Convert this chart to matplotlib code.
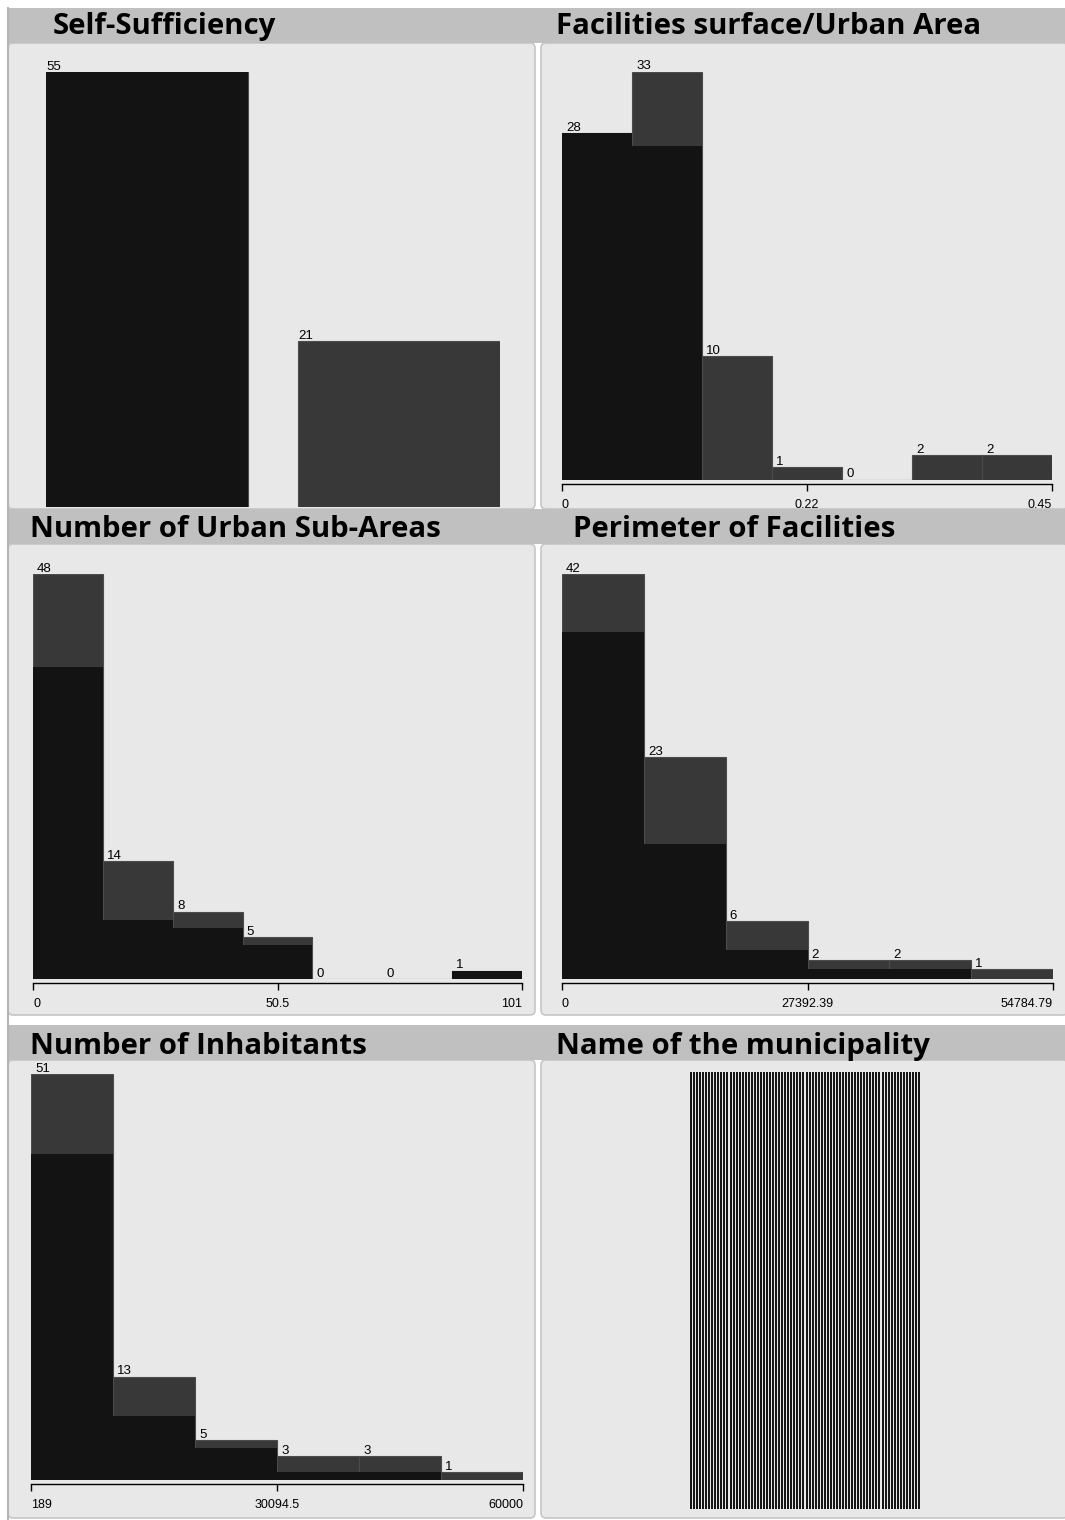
import numpy as np
import matplotlib.pyplot as plt
from matplotlib.patches import FancyBboxPatch, Rectangle
from matplotlib.transforms import IdentityTransform

W, H = 1065, 1520

# bin counts for all municipalities and for the selected group
self_suff_total = [55, 21]
self_suff_sel = [55, 0]

facil_range = (0.0, 0.45)
facil_total = [28, 33, 10, 1, 0, 2, 2]
facil_sel = [28, 27, 0, 0, 0, 0, 0]
facil_ticks = ['0', '0.22', '0.45']

sub_range = (0, 101)
sub_total = [48, 14, 8, 5, 0, 0, 1]
sub_sel = [37, 7, 6, 4, 0, 0, 1]
sub_ticks = ['0', '50.5', '101']

perim_range = (0.0, 54784.79)
perim_total = [42, 23, 6, 2, 2, 1]
perim_sel = [36, 14, 3, 1, 1, 0]
perim_ticks = ['0', '27392.39', '54784.79']

inhab_range = (189, 60000)
inhab_total = [51, 13, 5, 3, 3, 1]
inhab_sel = [41, 8, 4, 1, 1, 0]
inhab_ticks = ['189', '30094.5', '60000']

n_municipalities = 76
muni_counts = [1] * n_municipalities

BG = '#e8e8e8'
HEADER = '#c0c0c0'
BORDER = '#c6c6c6'
C_ALL = '#383838'
C_SEL = '#131313'
SMALL = 'Liberation Sans'
TITLE = 'Open Sans'

fig = plt.figure(figsize=(W / 100, H / 100), dpi=100, facecolor='white')


def frac(x0, y0, x1, y1):
    # pixel box (top-left origin) -> figure fraction rect
    return [x0 / W, 1 - y1 / H, (x1 - x0) / W, (y1 - y0) / H]


def panel(x0, y0, x1, y1):
    p = FancyBboxPatch((x0, H - y1), x1 - x0, y1 - y0,
                       boxstyle='round,pad=0,rounding_size=5',
                       transform=IdentityTransform(), facecolor=BG,
                       edgecolor=BORDER, linewidth=1.2, zorder=0)
    fig.add_artist(p)


def header(y0, y1):
    r = Rectangle((7, H - y1), W - 7, y1 - y0, transform=IdentityTransform(),
                  facecolor=HEADER, edgecolor='none', zorder=1)
    fig.add_artist(r)


def title(x, y, s):
    fig.text(x / W, 1 - y / H, s, fontsize=21.2, fontweight='bold',
             family=TITLE, va='baseline', ha='left', zorder=2)


# panel backgrounds
for (y0, y1) in [(43, 509), (544, 1015), (1060, 1518)]:
    panel(8, y0, 535, y1)
    panel(541, y0, 1068, y1)

header(8, 43)
header(509, 544)
header(1025, 1060)
fig.add_artist(plt.Line2D([8 / W, 8 / W], [0, 1 - 8 / H], color='#b4b4b4',
                          linewidth=1.5, zorder=3))

title(53, 34, 'Self-Sufficiency')
title(556, 34, 'Facilities surface/Urban Area')
title(30, 537, 'Number of Urban Sub-Areas')
title(573, 537, 'Perimeter of Facilities')
title(30, 1054, 'Number of Inhabitants')
title(556, 1054, 'Name of the municipality')


def count_labels(ax, xs, counts, dx):
    for x, n in zip(xs, counts):
        ax.annotate(str(n), (x, n), xytext=(dx, 1.5), textcoords='offset points',
                    ha='left', va='baseline', fontsize=9.5, family=SMALL)


def histogram(rect, rng, total, sel, ticks):
    lo, hi = rng
    ax = fig.add_axes(frac(*rect))
    ax.patch.set_alpha(0)
    edges = np.linspace(lo, hi, len(total) + 1)
    w = edges[1] - edges[0]
    ax.bar(edges[:-1], total, width=w, align='edge', color=C_ALL,
           edgecolor='#4c4c4c', linewidth=0.8)
    ax.bar(edges[:-1], sel, width=w, align='edge', color=C_SEL, linewidth=0)
    count_labels(ax, edges[:-1], total, 3)
    ax.set_xlim(lo, hi)
    ax.set_ylim(0, max(total))
    for side in ['top', 'left', 'right']:
        ax.spines[side].set_visible(False)
    ax.spines['bottom'].set_position(('outward', 3))
    ax.spines['bottom'].set_linewidth(1)
    ax.set_yticks([])
    ax.set_xticks([lo, (lo + hi) / 2, hi])
    ax.set_xticklabels(ticks, family=SMALL, fontsize=9)
    ax.tick_params(axis='x', direction='out', length=5, width=1, pad=6)
    labels = ax.get_xticklabels()
    labels[0].set_ha('left')
    labels[-1].set_ha('right')
    return ax


# Self-Sufficiency: two categories
ax = fig.add_axes(frac(46, 72, 500, 507))
ax.patch.set_alpha(0)
cats = np.arange(len(self_suff_total))
ax.bar(cats, self_suff_total, width=0.8, color=C_ALL, edgecolor='#4c4c4c', linewidth=0.8)
ax.bar(cats, self_suff_sel, width=0.8, color=C_SEL, linewidth=0)
count_labels(ax, cats - 0.4, self_suff_total, 0)
ax.set_xlim(-0.4, 1.4)
ax.set_ylim(0, max(self_suff_total))
ax.axis('off')

histogram((562, 71.5, 1052, 479.5), facil_range, facil_total, facil_sel, facil_ticks)
histogram((33, 574, 522, 979), sub_range, sub_total, sub_sel, sub_ticks)
histogram((562, 574, 1053, 979), perim_range, perim_total, perim_sel, perim_ticks)
histogram((31, 1074, 523, 1480), inhab_range, inhab_total, inhab_sel, inhab_ticks)

# one bar per municipality
ax = fig.add_axes(frac(690, 1072, 920, 1509))
ax.patch.set_alpha(0)
ax.bar(np.arange(n_municipalities), muni_counts, width=0.65, color='#161616', linewidth=0)
ax.set_xlim(-0.325, n_municipalities - 1 + 0.325)
ax.set_ylim(0, 1)
ax.axis('off')

fig.savefig('out.png', dpi=100, facecolor='white')
